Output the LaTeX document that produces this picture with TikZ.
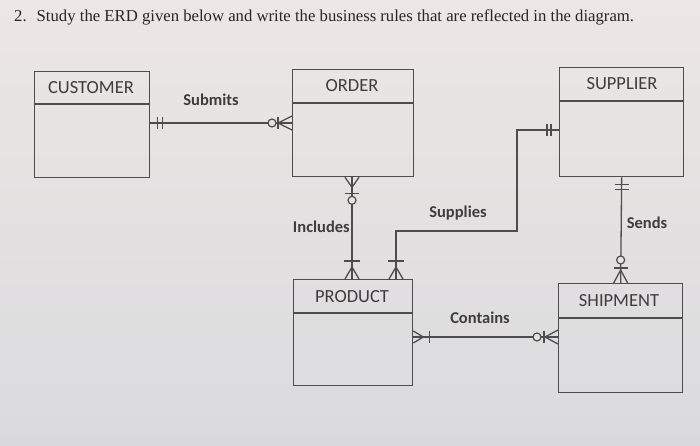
\documentclass[tikz,border=0pt]{standalone}
\usepackage{fontspec}
\setmainfont{Liberation Serif}
\newfontfamily\calfont{Carlito}
\definecolor{ink}{RGB}{78,76,76}
\definecolor{txt}{RGB}{62,60,60}
\definecolor{bgtop}{RGB}{236,231,229}
\definecolor{bgbot}{RGB}{218,218,221}
\begin{document}
\begin{tikzpicture}[x=1pt,y=-1pt,
  line/.style={draw=ink,line width=1.3pt},
  entity/.style={draw=ink,line width=1.3pt,anchor=north west,inner sep=0pt},
  ename/.style={text=txt,font=\calfont\fontsize{18.5}{22}\selectfont,inner sep=0pt},
  rlabel/.style={text=txt,font=\calfont\bfseries\fontsize{16.5}{20}\selectfont,inner sep=0pt},
  circ/.style={draw=ink,line width=1.2pt,fill=bgtop!60!bgbot}]
\useasboundingbox (0,0) rectangle (700,446);
\shade[top color=bgtop,bottom color=bgbot] (0,0) rectangle (700,446);
% title
\node[anchor=base west,inner sep=0pt,font=\fontsize{16.7}{20}\selectfont,text=black!85] (title) at (14,22) {2.\hspace{10pt}Study the ERD given below and write the business rules that are reflected in the diagram.};
% entities
\node[entity,minimum width=115pt,minimum height=106pt] (cust) at (34,71) {};
\node[entity,minimum width=121pt,minimum height=107pt] (ord) at (292,69) {};
\node[entity,minimum width=124pt,minimum height=109pt] (sup) at (559,67) {};
\node[entity,minimum width=119pt,minimum height=106pt] (prod) at (293,279) {};
\node[entity,minimum width=124pt,minimum height=109pt] (ship) at (558,283) {};
% header lines
\draw[line] (cust.west |- 0,104) -- (cust.east |- 0,104);
\draw[line] (ord.west |- 0,103) -- (ord.east |- 0,103);
\draw[line] (sup.west |- 0,101) -- (sup.east |- 0,101);
\draw[line] (prod.west |- 0,313) -- (prod.east |- 0,313);
\draw[line] (ship.west |- 0,318) -- (ship.east |- 0,318);
% entity names
\node[ename] (custn) at (91,88) {CUSTOMER};
\node[ename] (ordn) at (352,86) {ORDER};
\node[ename] (supn) at (622,84) {SUPPLIER};
\node[ename] (prodn) at (352,297) {PRODUCT};
\node[ename] (shipn) at (619,301) {SHIPMENT};
% relationship labels
\node[rlabel] (submits) at (211,100) {Submits};
\node[rlabel] (supplies) at (458,213) {Supplies};
\node[rlabel,anchor=east] (includes) at (350,227) {Includes};
\node[rlabel] (sends) at (647,223) {Sends};
\node[rlabel] (contains) at (480,318) {Contains};
% connector end points
\coordinate (c1a) at (cust.east |- 0,123);
\coordinate (c1b) at (ord.west |- 0,123);
\coordinate (c2a) at (352,0 |- ord.south);
\coordinate (c2b) at (352,0 |- prod.north);
\coordinate (c3a) at (sup.west |- 0,130);
\coordinate (c3k1) at (517,130);
\coordinate (c3k2) at (517,231);
\coordinate (c3k3) at (396,231);
\coordinate (c3b) at (396,0 |- prod.north);
\coordinate (c4a) at (sup.south);
\coordinate (c4b) at (ship.north);
\coordinate (c5a) at (prod.east |- 0,337);
\coordinate (c5b) at (ship.west |- 0,337);
% 1 CUSTOMER - ORDER
\draw[line] (c1a) -- (c1b);
\draw[line] ([xshift=7pt]c1a) ++(0,-6) -- ++(0,12);
\draw[line] ([xshift=12pt]c1a) ++(0,-6) -- ++(0,12);
\draw[line] ([yshift=7pt]c1b) -- ([xshift=-14pt]c1b) -- ([yshift=-7pt]c1b);
\draw[line] ([xshift=-14pt]c1b) ++(0,-6) -- ++(0,12);
\draw[circ] ([xshift=-20pt]c1b) circle (4pt);
% 2 ORDER - PRODUCT (Includes)
\draw[line] (c2a) -- (c2b);
\draw[line] ([xshift=-7pt]c2a) -- ([yshift=-10pt]c2a) -- ([xshift=7pt]c2a);
\draw[line] ([yshift=-16pt]c2a) ++(-7,0) -- ++(14,0);
\draw[circ] ([yshift=-23pt]c2a) circle (4pt);
\draw[line] ([xshift=-7pt]c2b) -- ([yshift=12pt]c2b) -- ([xshift=7pt]c2b);
\draw[line] ([yshift=18pt]c2b) ++(-8,0) -- ++(16,0);
% 3 SUPPLIER - PRODUCT (Supplies)
\draw[line] (c3a) -- (c3k1) -- (c3k2) -- (c3k3) -- (c3b);
\draw[line] ([xshift=-8pt]c3a) ++(0,-6) -- ++(0,12);
\draw[line] ([xshift=-12pt]c3a) ++(0,-6) -- ++(0,12);
\draw[line] ([xshift=-7pt]c3b) -- ([yshift=12pt]c3b) -- ([xshift=7pt]c3b);
\draw[line] ([yshift=18pt]c3b) ++(-8,0) -- ++(16,0);
% 4 SUPPLIER - SHIPMENT (Sends)
\draw[line] (c4a) -- (c4b);
\draw[line] ([yshift=-7pt]c4a) ++(-7,0) -- ++(14,0);
\draw[line] ([yshift=-12pt]c4a) ++(-7,0) -- ++(14,0);
\draw[line] ([xshift=-7pt]c4b) -- ([yshift=13pt]c4b) -- ([xshift=7pt]c4b);
\draw[line] ([yshift=15pt]c4b) ++(-7,0) -- ++(14,0);
\draw[circ] ([yshift=23pt]c4b) circle (4pt);
% 5 PRODUCT - SHIPMENT (Contains)
\draw[line] (c5a) -- (c5b);
\draw[line] ([yshift=-6pt]c5a) -- ([xshift=10pt]c5a) -- ([yshift=6pt]c5a);
\draw[line] ([xshift=16pt]c5a) ++(0,-6) -- ++(0,12);
\draw[line] ([yshift=-7pt]c5b) -- ([xshift=-13pt]c5b) -- ([yshift=7pt]c5b);
\draw[line] ([xshift=-14pt]c5b) ++(0,-6) -- ++(0,12);
\draw[circ] ([xshift=-21pt]c5b) circle (4pt);
\end{tikzpicture}
\end{document}
